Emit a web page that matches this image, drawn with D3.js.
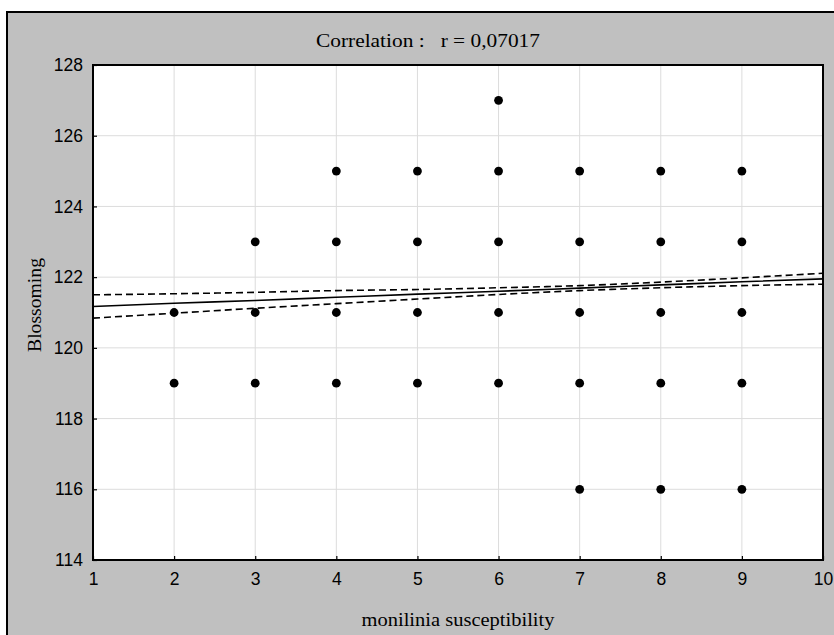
<!DOCTYPE html>
<html>
<head>
<meta charset="utf-8">
<script src="https://cdn.jsdelivr.net/npm/d3@7"></script>
<style>
  body { margin: 0; background: #fff; }
  .tick-lbl { font-family: "Liberation Sans", Arial, sans-serif; font-size: 17.5px; }
  .serif { font-family: "Liberation Serif", "Times New Roman", serif; font-size: 19px; }
</style>
</head>
<body>
<div id="chart"></div>
<script>
// data -------------------------------------------------
var monilinia = [2, 2, 3, 3, 3, 4, 4, 4, 4, 5, 5, 5, 5, 6, 6, 6, 6, 6, 7, 7, 7, 7, 7, 8, 8, 8, 8, 8, 9, 9, 9, 9, 9];
var blossoming = [121, 119, 123, 121, 119, 125, 123, 121, 119, 125, 123, 121, 119, 127, 125, 123, 121, 119,
                  125, 123, 121, 119, 116, 125, 123, 121, 119, 116, 125, 123, 121, 119, 116];

// regression line and 95% band, read at each x
var fitX = [1, 2, 3, 4, 5, 6, 7, 8, 9, 10];
var fitY = [121.17, 121.26, 121.34, 121.43, 121.52, 121.60, 121.69, 121.78, 121.87, 121.95];
var upperY = [121.50, 121.53, 121.57, 121.62, 121.65, 121.70, 121.76, 121.86, 121.98, 122.11];
var lowerY = [120.84, 120.98, 121.12, 121.25, 121.38, 121.51, 121.62, 121.70, 121.76, 121.80];

var xTicks = [1, 2, 3, 4, 5, 6, 7, 8, 9, 10];
var yTicks = [114, 116, 118, 120, 122, 124, 126, 128];

var width = 834, height = 635;
var margin = { left: 93, top: 65, right: 11, bottom: 75 };

var svg = d3.select('#chart').append('svg')
  .attr('width', width)
  .attr('height', height);

// gray frame
svg.append('rect')
  .attr('x', 7).attr('y', 12)
  .attr('width', 840).attr('height', 640)
  .attr('fill', '#c0c0c0')
  .attr('stroke', '#000')
  .attr('stroke-width', 2);

var x = d3.scaleLinear().domain([1, 10]).range([margin.left, width - margin.right]);
var y = d3.scaleLinear().domain([114, 128]).range([height - margin.bottom, margin.top]);

var g = svg.append('g');

g.append('rect')
  .attr('x', x(1)).attr('y', y(128))
  .attr('width', x(10) - x(1)).attr('height', y(114) - y(128))
  .attr('fill', '#fff');

// grid
g.selectAll('.vgrid').data(xTicks.slice(1, -1)).enter().append('line')
  .attr('x1', function (d) { return x(d); }).attr('x2', function (d) { return x(d); })
  .attr('y1', y(114)).attr('y2', y(128))
  .attr('stroke', '#dcdcdc').attr('stroke-width', 1);
g.selectAll('.hgrid').data(yTicks.slice(1, -1)).enter().append('line')
  .attr('y1', function (d) { return y(d); }).attr('y2', function (d) { return y(d); })
  .attr('x1', x(1)).attr('x2', x(10))
  .attr('stroke', '#dcdcdc').attr('stroke-width', 1);

// axes with inward ticks
var xAxis = g.append('g')
  .attr('transform', 'translate(0,' + y(114) + ')')
  .call(d3.axisBottom(x).tickValues(xTicks).tickSizeInner(-4).tickSizeOuter(0).tickPadding(13));
var yAxis = g.append('g')
  .attr('transform', 'translate(' + x(1) + ',0)')
  .call(d3.axisLeft(y).tickValues(yTicks).tickSizeInner(-4).tickSizeOuter(0).tickPadding(10));

[xAxis, yAxis].forEach(function (a) {
  a.select('.domain').remove();
  a.selectAll('line').attr('stroke', '#000').attr('stroke-width', 1.2);
  a.selectAll('text').attr('class', 'tick-lbl').attr('fill', '#000');
});

// plot border
g.append('rect')
  .attr('x', x(1)).attr('y', y(128))
  .attr('width', x(10) - x(1)).attr('height', y(114) - y(128))
  .attr('fill', 'none')
  .attr('stroke', '#000').attr('stroke-width', 2);

// fit + band
var line = d3.line()
  .x(function (d) { return x(d[0]); })
  .y(function (d) { return y(d[1]); })
  .curve(d3.curveMonotoneX);

g.append('path')
  .datum(d3.zip(fitX, fitY))
  .attr('d', line)
  .attr('fill', 'none').attr('stroke', '#000').attr('stroke-width', 1.6);

[upperY, lowerY].forEach(function (arr) {
  g.append('path')
    .datum(d3.zip(fitX, arr))
    .attr('d', line)
    .attr('fill', 'none').attr('stroke', '#000').attr('stroke-width', 1.6)
    .attr('stroke-dasharray', '7,4');
});

// points
g.selectAll('circle')
  .data(d3.zip(monilinia, blossoming))
  .enter().append('circle')
  .attr('cx', function (d) { return x(d[0]); })
  .attr('cy', function (d) { return y(d[1]); })
  .attr('r', 4.4)
  .attr('fill', '#000');

// texts
svg.append('text')
  .attr('class', 'serif')
  .attr('x', 428).attr('y', 47)
  .attr('text-anchor', 'middle')
  .attr('xml:space', 'preserve')
  .attr('textLength', 224)
  .attr('lengthAdjust', 'spacingAndGlyphs')
  .text('Correlation :   r = 0,07017');

svg.append('text')
  .attr('class', 'serif')
  .attr('x', (x(1) + x(10)) / 2).attr('y', 626)
  .attr('text-anchor', 'middle')
  .attr('textLength', 193)
  .attr('lengthAdjust', 'spacingAndGlyphs')
  .text('monilinia susceptibility');

svg.append('text')
  .attr('class', 'serif')
  .attr('transform', 'translate(41,305) rotate(-90)')
  .attr('text-anchor', 'middle')
  .attr('textLength', 94)
  .attr('lengthAdjust', 'spacingAndGlyphs')
  .text('Blossoming');
</script>
</body>
</html>
